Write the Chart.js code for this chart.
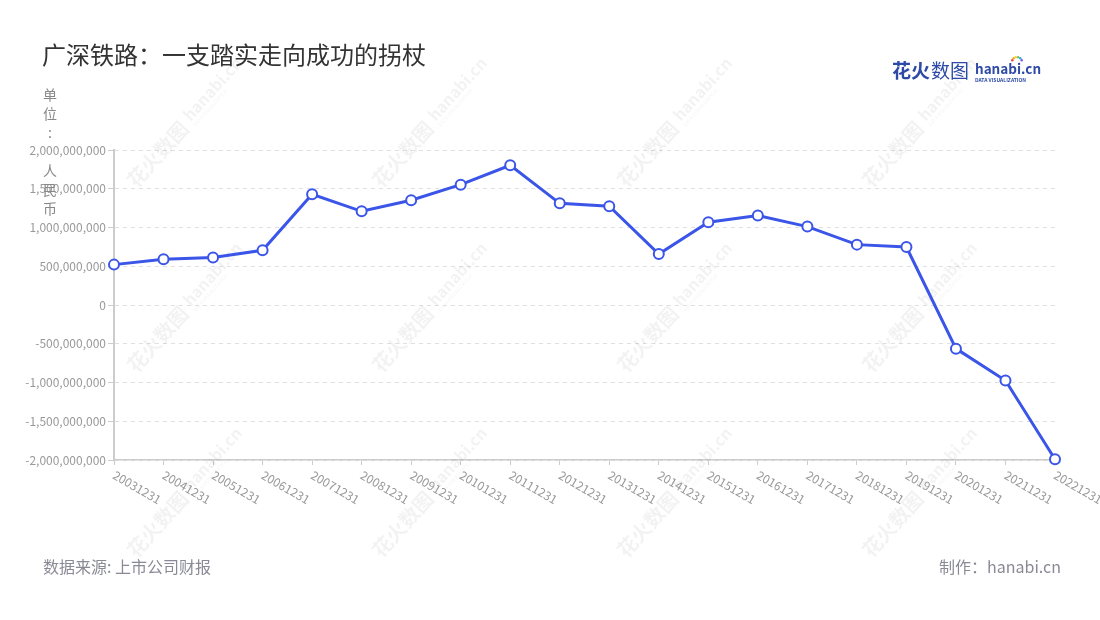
<!DOCTYPE html>
<html>
<head>
<meta charset="utf-8">
<script src="https://cdn.jsdelivr.net/npm/chart.js@4/dist/chart.umd.min.js"></script>
<style>
  html, body { margin: 0; padding: 0; background: #ffffff; }
  canvas { display: block; }
</style>
</head>
<body>
<canvas id="c" width="1100" height="620"></canvas>
<script>
// ---- data ----
const categories = ['20031231','20041231','20051231','20061231','20071231','20081231','20091231','20101231','20111231','20121231','20131231','20141231','20151231','20161231','20171231','20181231','20191231','20201231','20211231','20221231'];
const netProfit = [521e6, 590e6, 612e6, 706e6, 1428e6, 1209e6, 1351e6, 1553e6, 1803e6, 1312e6, 1274e6, 658e6, 1067e6, 1154e6, 1012e6, 779e6, 748e6, -563e6, -975e6, -1990e6];
const yTickValues = [-2e9, -1.5e9, -1e9, -5e8, 0, 5e8, 1e9, 1.5e9, 2e9];
const titleText = '广深铁路：一支踏实走向成功的拐杖';
const unitText = '单位: 人民币';
const sourceText = '数据来源: 上市公司财报';
const makerText = '制作：hanabi.cn';

const FONT = '"Noto Sans CJK SC", "Noto Sans", sans-serif';

const decor = {
  id: 'decor',
  beforeDatasetsDraw(chart) {
    // faint watermark tiles
    const ctx = chart.ctx;
    ctx.save();
    const cols = [183, 428, 673, 918];
    const rows = [126, 311, 496];
    ctx.fillStyle = 'rgba(0,0,0,0.05)';
    rows.forEach(cy => cols.forEach(cx => {
      ctx.save();
      ctx.translate(cx, cy);
      ctx.rotate(-48 * Math.PI / 180);
      ctx.textBaseline = 'middle';
      ctx.textAlign = 'left';
      ctx.font = 'bold 20px ' + FONT;
      ctx.fillText('花火数图', -78, 0);
      ctx.font = 'bold 16px ' + FONT;
      ctx.fillText('hanabi.cn', 8, -3);
      ctx.font = '5px ' + FONT;
      ctx.fillText('DATA VISUALIZATION', 8, 8);
      ctx.restore();
    }));
    ctx.restore();
  },
  afterDraw(chart) {
    const ctx = chart.ctx;
    ctx.save();
    // title
    ctx.fillStyle = '#333';
    ctx.font = '24px ' + FONT;
    ctx.textAlign = 'left';
    ctx.textBaseline = 'middle';
    ctx.fillText(titleText, 42, 55);
    // unit label (stacked vertical)
    ctx.fillStyle = '#888';
    ctx.font = '14px ' + FONT;
    ctx.textAlign = 'center';
    Array.from(unitText).forEach((ch, i) => {
      ctx.fillText(ch, 50, 95 + i * 19);
    });
    // footer
    ctx.font = '16px ' + FONT;
    ctx.fillStyle = '#8a8a96';
    ctx.textAlign = 'left';
    ctx.fillText(sourceText, 43, 567);
    ctx.textAlign = 'right';
    ctx.fillText(makerText, 1061, 567);
    // x labels rotated
    const xs = chart.scales.x;
    ctx.fillStyle = '#999';
    ctx.font = '12px ' + FONT;
    ctx.textAlign = 'left';
    ctx.textBaseline = 'middle';
    categories.forEach((lab, i) => {
      const px = xs.getPixelForTick(i);
      ctx.save();
      ctx.translate(px, 474);
      ctx.rotate(30 * Math.PI / 180);
      ctx.fillText(lab, 0, 0);
      ctx.restore();
    });
    // logo
    ctx.textAlign = 'left';
    ctx.textBaseline = 'middle';
    ctx.fillStyle = '#2c4aa6';
    ctx.font = 'bold 19px ' + FONT;
    ctx.fillText('花火', 892, 71);
    ctx.font = '19px ' + FONT;
    ctx.fillText('数图', 931, 71);
    ctx.font = 'bold 13.5px ' + FONT;
    ctx.fillText('hanabi.cn', 975, 69);
    ctx.font = 'bold 5px ' + FONT;
    ctx.fillText('DATA VISUALIZATION', 975, 80);
    const dots = ['#e8413c', '#f5a623', '#f8d21c', '#5cc26b', '#35a7e0', '#7a5ce0'];
    dots.forEach((c, i) => {
      const a = (-160 + i * 28) * Math.PI / 180;
      ctx.fillStyle = c;
      ctx.beginPath();
      ctx.arc(1017 + Math.cos(a) * 5, 62 + Math.sin(a) * 5, 1.2, 0, Math.PI * 2);
      ctx.fill();
    });
    ctx.restore();
  }
};

new Chart(document.getElementById('c'), {
  type: 'line',
  data: {
    labels: categories,
    datasets: [{
      data: netProfit,
      borderColor: '#3a55e8',
      borderWidth: 3,
      pointRadius: 5,
      pointBorderWidth: 2,
      pointBackgroundColor: '#ffffff',
      pointBorderColor: '#3a55e8',
      tension: 0,
      clip: false
    }]
  },
  options: {
    responsive: false,
    animation: false,
    devicePixelRatio: 1,
    layout: { padding: { top: 150, right: 45, bottom: 100, left: 0 } },
    plugins: { legend: { display: false }, tooltip: { enabled: false }, title: { display: false } },
    scales: {
      x: {
        type: 'category',
        offset: false,
        ticks: { display: false },
        grid: { drawOnChartArea: false, drawTicks: true, tickLength: 5, tickColor: '#cccccc', tickWidth: 1 },
        border: { display: true, color: '#cccccc', width: 1.5 },
        afterFit(s) { s.height = 60; }
      },
      y: {
        min: -2e9,
        max: 2e9,
        afterBuildTicks(s) { s.ticks = yTickValues.map(v => ({ value: v })); },
        ticks: {
          color: '#999',
          font: { family: FONT, size: 12 },
          padding: 2,
          callback: (v) => Number(v).toLocaleString('en-US')
        },
        grid: { color: '#e0e0e0', lineWidth: 1, tickLength: 6, tickColor: '#cccccc', tickWidth: 1 },
        border: { display: true, color: '#cccccc', width: 2, dash: [4, 4] },
        afterFit(s) { s.width = 114; }
      }
    }
  },
  plugins: [decor]
});
</script>
</body>
</html>
